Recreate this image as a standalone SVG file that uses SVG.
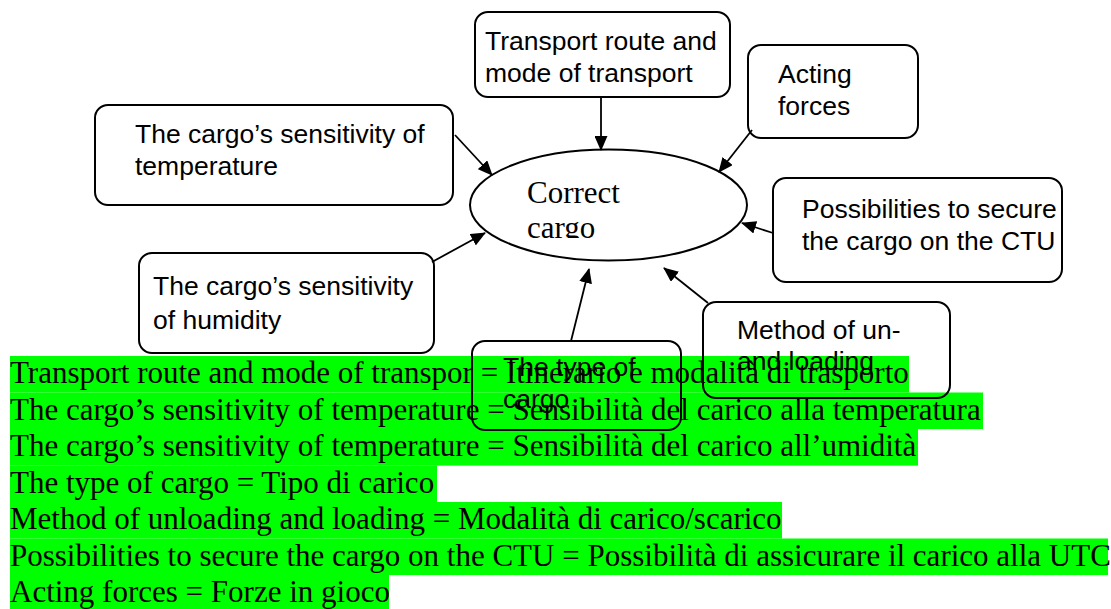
<svg xmlns="http://www.w3.org/2000/svg" width="1111" height="609" viewBox="0 0 1111 609">
<style>
.box{fill:none;stroke:#000;stroke-width:2}
.lbl{font-family:"Liberation Sans",Arial,sans-serif;font-size:26.5px;fill:#000}
.ser{font-family:"Liberation Serif","Times New Roman",serif;fill:#000}
.hl{fill:#00ff00}
.conn line{stroke:#000;stroke-width:1.8}
</style>
<defs>
<marker id="ah" markerWidth="15" markerHeight="13" refX="14" refY="6.5" orient="auto" markerUnits="userSpaceOnUse" viewBox="0 0 15 13">
<path d="M0,0 L15,6.5 L0,13 z" fill="#000"/>
</marker>
<clipPath id="ellclip"><rect x="470" y="150" width="280" height="88"/></clipPath>
</defs>
<rect width="1111" height="609" fill="#fff"/>
<g id="legend">
<rect class="hl" x="10" y="356" width="899" height="36.6"/>
<rect class="hl" x="10" y="392.5" width="973" height="36.6"/>
<rect class="hl" x="10" y="429" width="908" height="36.6"/>
<rect class="hl" x="10" y="465.5" width="427" height="36.6"/>
<rect class="hl" x="10" y="502" width="772" height="36.6"/>
<rect class="hl" x="10" y="538.5" width="1098" height="36.6"/>
<rect class="hl" x="10" y="575" width="379" height="36.6"/>
<g class="ser" font-size="31">
<text x="10" y="383">Transport route and mode of transpor = Itinerario e modalità di trasporto</text>
<text x="10" y="419.5">The cargo’s sensitivity of temperature = Sensibilità del carico alla temperatura</text>
<text x="10" y="456">The cargo’s sensitivity of temperature = Sensibilità del carico all’umidità</text>
<text x="10" y="492.5">The type of cargo = Tipo di carico</text>
<text x="10" y="529">Method of unloading and loading = Modalità di carico/scarico</text>
<text x="10" y="565.5">Possibilities to secure the cargo on the CTU = Possibilità di assicurare il carico alla UTC</text>
<text x="10" y="602">Acting forces = Forze in gioco</text>
</g>
</g>
<g id="connectors" class="conn">
<line x1="601" y1="97" x2="601" y2="150" marker-end="url(#ah)"/>
<line x1="752" y1="130" x2="719" y2="172" marker-end="url(#ah)"/>
<line x1="455" y1="135" x2="492" y2="175" marker-end="url(#ah)"/>
<line x1="773" y1="233" x2="742" y2="223" marker-end="url(#ah)"/>
<line x1="432" y1="262" x2="485" y2="233" marker-end="url(#ah)"/>
<line x1="571" y1="341" x2="589" y2="269" marker-end="url(#ah)"/>
<line x1="708" y1="303" x2="664" y2="268" marker-end="url(#ah)"/>
</g>
<g id="center">
<ellipse cx="608.5" cy="205" rx="138.5" ry="55.5" fill="none" stroke="#000" stroke-width="2"/>
<g clip-path="url(#ellclip)" class="ser" font-size="31">
<text x="527" y="203">Correct</text>
<text x="527" y="238">cargo</text>
</g>
</g>
<g id="transport">
<rect class="box" x="475" y="12" width="255" height="85" rx="13"/>
<text class="lbl" x="485" y="50">Transport route and</text>
<text class="lbl" x="485" y="82">mode of transport</text>
</g>
<g id="acting">
<rect class="box" x="748" y="45" width="170" height="93" rx="13"/>
<text class="lbl" x="778" y="83">Acting</text>
<text class="lbl" x="778" y="115">forces</text>
</g>
<g id="temperature">
<rect class="box" x="95" y="105" width="358" height="100" rx="13"/>
<text class="lbl" x="135" y="143">The cargo’s sensitivity of</text>
<text class="lbl" x="135" y="175">temperature</text>
</g>
<g id="possibilities">
<rect class="box" x="773" y="178" width="289" height="104" rx="13"/>
<text class="lbl" x="802" y="218">Possibilities to secure</text>
<text class="lbl" x="802" y="250">the cargo on the CTU</text>
</g>
<g id="humidity">
<rect class="box" x="139" y="253" width="295" height="100" rx="13"/>
<text class="lbl" x="153" y="295">The cargo’s sensitivity</text>
<text class="lbl" x="153" y="329">of humidity</text>
</g>
<g id="type">
<rect class="box" x="472" y="341" width="209" height="89" rx="13"/>
<text class="lbl" x="503" y="376">The type of</text>
<text class="lbl" x="503" y="408">cargo</text>
</g>
<g id="method">
<rect class="box" x="703" y="302" width="247" height="96" rx="13"/>
<text class="lbl" x="737" y="339">Method of un-</text>
<text class="lbl" x="737" y="370">and loading</text>
</g>
</svg>
